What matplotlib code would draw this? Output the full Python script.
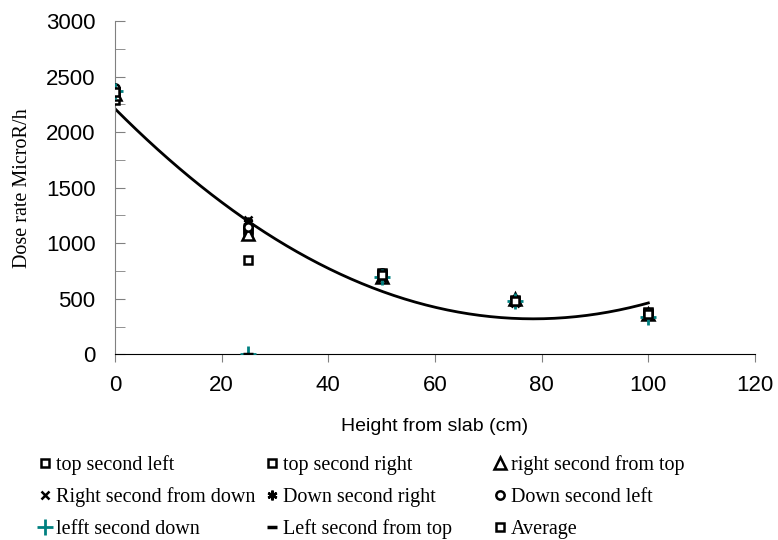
import numpy as np
import matplotlib.pyplot as plt
from matplotlib.lines import Line2D
from matplotlib.ticker import MultipleLocator

# heights (cm) and dose rates (MicroR/h)
heights = [0, 25, 50, 75, 100]
top_second_left = [2290, 1100, 730, 490, 380]
top_second_right = [2360, 1130, 720, 480, 370]
right_second_from_top = [2340, 1080, 700, 500, 360]
right_second_from_down = [2380, 1210, 690, 460, 350]
down_second_right = [2370, 1190, 720, 470, 360]
down_second_left = [2400, 1150, 730, 490, 370]
lefft_second_down = [2370, 0, 700, 480, 340]
left_second_from_top = [2350, 0, 710, 470, 350]
average = [2360, 850, 710, 480, 360]

series = [
    ("top second left", top_second_left, dict(marker="s", mfc="white", mec="black", ms=6, mew=1.8)),
    ("top second right", top_second_right, dict(marker="s", mfc="white", mec="black", ms=6, mew=1.8)),
    ("right second from top", right_second_from_top, dict(marker="^", mfc="white", mec="black", ms=8.5, mew=1.8)),
    ("Right second from down", right_second_from_down, dict(marker="x", color="black", ms=6, mew=1.8)),
    ("Down second right", down_second_right, dict(marker=(6, 2, 0), color="black", ms=7, mew=1.8)),
    ("Down second left", down_second_left, dict(marker="o", mfc="white", mec="black", ms=6, mew=1.8)),
    ("lefft second down", lefft_second_down, dict(marker="+", color="#008080", ms=11, mew=2)),
    ("Left second from top", left_second_from_top, dict(marker="_", color="black", ms=7, mew=2.5)),
    ("Average", average, dict(marker="s", mfc="white", mec="black", ms=6, mew=1.8)),
]

W, H = 778, 540
fig = plt.figure(figsize=(W / 100, H / 100), dpi=100)
ax = fig.add_axes([115 / W, 1 - 354.3 / H, 640 / W, 333.3 / H])

for name, vals, style in series:
    ax.plot(heights, vals, linestyle="none", zorder=3, **style)

# 2nd order polynomial trendline through the average
coef = np.polyfit(heights, average, 2)
xt = np.linspace(heights[0], heights[-1], 200)
ax.plot(xt, np.polyval(coef, xt), color="black", lw=2, zorder=2)

ax.set_xlim(0, 120)
ax.set_ylim(0, 3000)
ax.xaxis.set_major_locator(MultipleLocator(20))
ax.yaxis.set_major_locator(MultipleLocator(500))
ax.yaxis.set_minor_locator(MultipleLocator(250))

for s in ["top", "right"]:
    ax.spines[s].set_visible(False)
ax.spines["left"].set_color("#808080")
ax.spines["bottom"].set_color("black")

ax.tick_params(axis="y", which="both", direction="in", color="#808080", labelsize=16, length=7, pad=14)
ax.tick_params(axis="x", direction="out", color="#808080", labelsize=16, length=6, pad=9)
for lab in ax.get_xticklabels() + ax.get_yticklabels():
    lab.set_fontfamily("Liberation Sans")

ax.set_xlabel("Height from slab (cm)", fontsize=14, fontfamily="Liberation Sans", va="center")
ax.xaxis.set_label_coords(0.5, (354.3 - 427) / 333.3)
ax.set_ylabel("Dose rate MicroR/h", fontsize=14.5, fontfamily="Liberation Serif", va="center")
ax.yaxis.set_label_coords((23 - 115) / 640, 0.5)

# legend, three items per row
col_x = [45, 272, 500]
row_y = [463, 495, 527]
for i, (name, vals, style) in enumerate(series):
    mx = col_x[i % 3]
    my = row_y[i // 3]
    fig.add_artist(Line2D([mx / W], [1 - my / H], transform=fig.transFigure, linestyle="none", **style))
    fig.text((mx + 11) / W, 1 - my / H, name, fontsize=14.5, fontfamily="Liberation Serif",
             ha="left", va="center_baseline")

fig.savefig("out.png", dpi=100)
